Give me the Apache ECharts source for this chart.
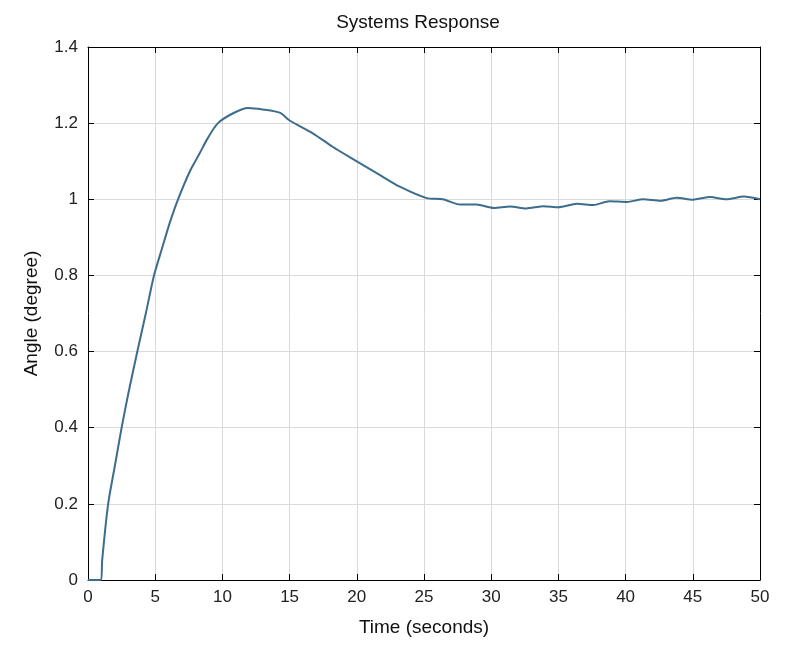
<!DOCTYPE html>
<html>
	<head>
		<meta charset="utf8"></meta>
		<script src="https://cdnjs.cloudflare.com/ajax/libs/echarts/6.0.0/echarts.min.js"></script>
		<title>Systems Response</title>
	</head>
	<style>
		* {
			margin: 0;
			padding: 0;
		}
		#chart {
			width: 786px;
			height: 648px;
			background-color: #fff;
		}
	</style>
	<body>
		<div id="chart"></div>
	</body>
	<script type="text/javascript">
		// step response
		var time = [0, 0.97, 1.05, 1.5, 2.0, 2.5, 3.0, 3.67, 4.3, 4.91, 5.5, 6.1, 6.7, 7.6, 8.3, 8.9, 9.67, 10.8, 11.9, 13, 14.3, 15.0,
			16.7, 18.2, 19.5, 21.7, 23.2, 25.2, 26.4, 27.7, 28.9, 30.2, 31.4, 32.6, 33.9, 35.0, 36.4, 37.6,
			38.8, 40.1, 41.3, 42.6, 43.8, 45.0, 46.3, 47.5, 48.8, 50];
		var angle = [0, 0, 0.05, 0.2, 0.3, 0.4, 0.49, 0.6, 0.7, 0.8, 0.87, 0.94, 1.0, 1.075, 1.12, 1.16, 1.2, 1.226, 1.24, 1.236, 1.227, 1.207,
			1.174, 1.138, 1.11, 1.064, 1.033, 1.003, 1.0, 0.986, 0.986, 0.977, 0.981, 0.976, 0.982, 0.979, 0.988, 0.985,
			0.995, 0.993, 1.0, 0.996, 1.004, 0.999, 1.006, 1.0, 1.007, 1.0];

		var xTicks = {min: 0, max: 50, interval: 5};
		var yTicks = {min: 0, max: 1.4, interval: 0.2};

		var font = "Liberation Sans";
		var points = time.map(function(t, i) {
			return [t, angle[i]];
		});

		var frameAxis = {
			show: true,
			axisLine: {show: true, onZero: false, lineStyle: {color: '#000', width: 1}},
			axisTick: {show: true, inside: true, length: 6, lineStyle: {color: '#000'}},
			axisLabel: {show: false},
			splitLine: {show: false}
		};

		var option = {
			animation: false,
			backgroundColor: '#fff',
			title: {
				text: 'Systems Response',
				left: 413,
				top: 8,
				textAlign: 'center',
				textStyle: {fontFamily: font, fontSize: 19, fontWeight: 'normal', color: '#111'}
			},
			grid: {
				left: 88,
				right: 26,
				top: 47,
				bottom: 68
			},
			xAxis: [{
					type: 'value',
					min: xTicks.min,
					max: xTicks.max,
					interval: xTicks.interval,
					name: 'Time (seconds)',
					nameLocation: 'middle',
					nameGap: 38,
					nameTextStyle: {fontFamily: font, fontSize: 19, color: '#111'},
					axisLine: {show: true, onZero: false, lineStyle: {color: '#000', width: 1}},
					axisTick: {show: true, inside: true, length: 6, lineStyle: {color: '#000'}},
					axisLabel: {fontFamily: font, fontSize: 17, color: '#222', margin: 9},
					splitLine: {show: true, lineStyle: {color: '#dadada', width: 1}}
				},
				Object.assign({type: 'value', position: 'top', min: xTicks.min, max: xTicks.max, interval: xTicks.interval}, frameAxis)
			],
			yAxis: [{
					type: 'value',
					min: yTicks.min,
					max: yTicks.max,
					interval: yTicks.interval,
					name: 'Angle (degree)',
					nameLocation: 'middle',
					nameGap: 47,
					nameTextStyle: {fontFamily: font, fontSize: 19, color: '#111'},
					axisLine: {show: true, onZero: false, lineStyle: {color: '#000', width: 1}},
					axisTick: {show: true, inside: true, length: 6, lineStyle: {color: '#000'}},
					axisLabel: {fontFamily: font, fontSize: 17, color: '#222', margin: 10},
					splitLine: {show: true, lineStyle: {color: '#dadada', width: 1}}
				},
				Object.assign({type: 'value', position: 'right', min: yTicks.min, max: yTicks.max, interval: yTicks.interval}, frameAxis)
			],
			series: [{
				type: 'line',
				data: points,
				showSymbol: false,
				smooth: 0.25,
				lineStyle: {color: '#3d6d8c', width: 2}
			}]
		};
		var chart = echarts.init(document.querySelector("#chart"));
		chart.setOption(option);
	</script>
</html>
